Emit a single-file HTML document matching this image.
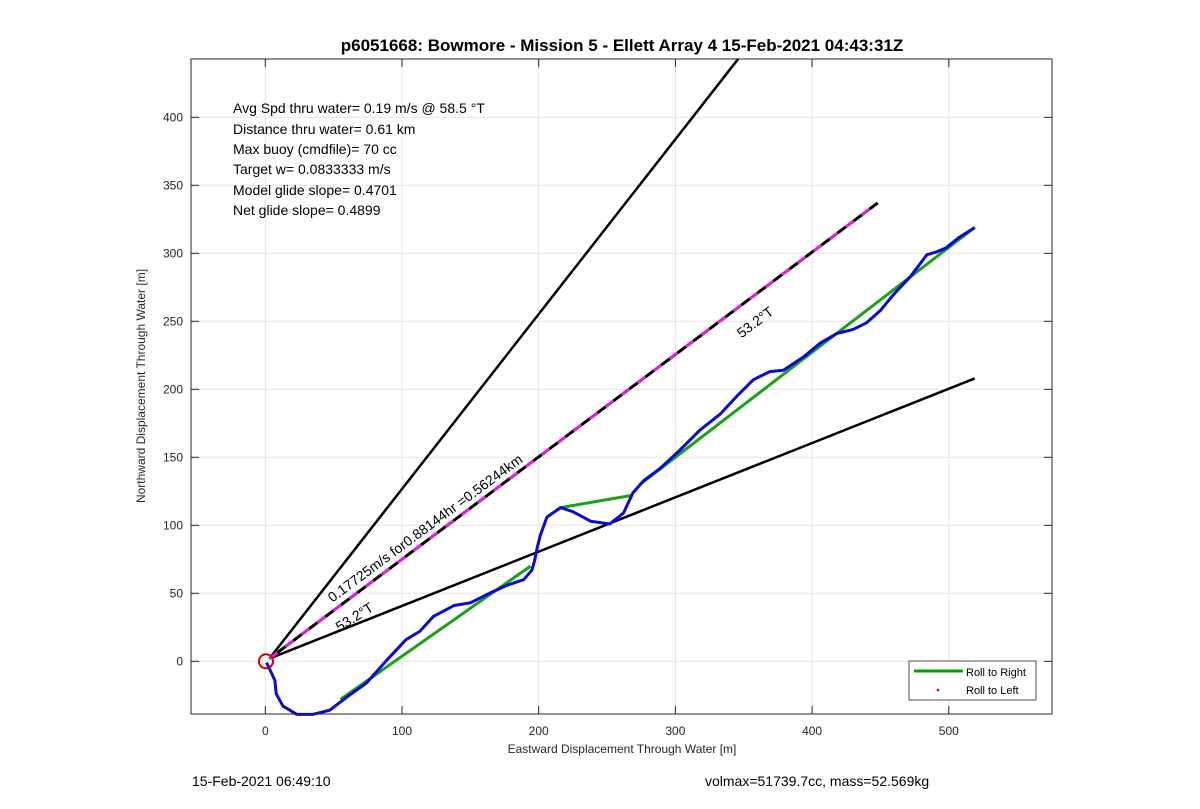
<!DOCTYPE html>
<html><head><meta charset="utf-8"><style>
body{margin:0;background:#fff;}
svg text{font-family:"Liberation Sans",Arial,sans-serif;}
</style></head><body>
<svg id="chart" width="1200" height="804" viewBox="0 0 1200 804">
<rect width="1200" height="804" fill="#fff"/>
<text x="622" y="51" font-size="17" font-weight="bold" text-anchor="middle" fill="#000">p6051668: Bowmore - Mission 5 - Ellett Array 4 15-Feb-2021 04:43:31Z</text>
<rect x="191" y="59" width="861" height="655" fill="#fff" stroke="none"/>
<g id="grid"></g>
<g id="series"></g>
<rect x="191" y="59" width="861" height="655" fill="none" stroke="#262626" stroke-width="1"/>
<g id="ticks"></g>
<g font-size="14" fill="#000">
<text x="233" y="113">Avg Spd thru water=  0.19 m/s @  58.5 °T</text>
<text x="233" y="134">Distance thru water=  0.61 km</text>
<text x="233" y="154">Max buoy (cmdfile)= 70 cc</text>
<text x="233" y="174">Target w= 0.0833333 m/s</text>
<text x="233" y="195">Model glide slope= 0.4701</text>
<text x="233" y="215">Net glide slope= 0.4899</text>
</g>
<text x="428" y="532" font-size="14" text-anchor="middle" transform="rotate(-36.5 428 532)">0.17725m/s for0.88144hr =0.56244km</text>
<text x="357" y="621" font-size="14" text-anchor="middle" transform="rotate(-32 357 621)">53.2°T</text>
<text x="758" y="326" font-size="14" text-anchor="middle" transform="rotate(-37 758 326)">53.2°T</text>
<text x="145" y="386" font-size="12" text-anchor="middle" transform="rotate(-90 145 386)" fill="#262626">Northward Displacement Through Water [m]</text>
<text x="622" y="753" font-size="12" text-anchor="middle" fill="#262626">Eastward Displacement Through Water [m]</text>
<g>
<rect x="909" y="661" width="127" height="39" fill="#fff" stroke="#262626" stroke-width="0.8"/>
<line x1="914" y1="671" x2="963" y2="671" stroke="#00a000" stroke-width="3"/>
<text x="966" y="676" font-size="11">Roll to Right</text>
<circle cx="938" cy="690" r="1.3" fill="#d00"/>
<text x="966" y="694" font-size="11">Roll to Left</text>
</g>
<text x="192" y="786" font-size="14">15-Feb-2021 06:49:10</text>
<text x="705" y="786" font-size="14">volmax=51739.7cc, mass=52.569kg</text>
</svg>
<script>
const xTicks=[0,100,200,300,400,500];
const yTicks=[0,50,100,150,200,250,300,350,400];
const trackX=[1,7,8,13,23,35,47,60,74,89,103,113,123,138,150,164,177,189,195,197,199,201,206,216,225,238,252,262,269,277,289,303,318,333,345,357,369,379,394,406,418,430,440,450,459,472,484,491,498,508,519];
const trackY=[-1,-14,-24,-33,-39,-39,-36,-26,-16,1,16,22,33,41,43,50,56,60,67,74,84,92,106,113,110,103,101,109,124,133,142,155,170,182,195,207,213,214,224,234,241,244,249,258,269,283,299,301,304,312,319];
const greenX=[[55,194],[216,268],[274,519]];
const greenY=[[-28,70],[113,122],[130,319]];
const rayEndX=[346,448,519];
const rayEndY=[443,337,208];
const originX=3, originY=2;
const X=v=>265.3+v*1.367;
const Y=v=>661.3-v*1.36;
const NS="http://www.w3.org/2000/svg";
function mk(tag,attrs,parent){const e=document.createElementNS(NS,tag);for(const k in attrs)e.setAttribute(k,attrs[k]);parent.appendChild(e);return e;}
const grid=document.getElementById('grid'),ticks=document.getElementById('ticks'),series=document.getElementById('series');
xTicks.forEach(t=>{
 const g=mk('line',{x1:X(t),x2:X(t),y1:59,y2:714,stroke:'#e3e3e3','stroke-width':1},grid);
 
 
 const a=mk('line',{x1:X(t),x2:X(t),y1:714,y2:706,stroke:'#262626'},ticks);
 
 
 const b=mk('line',{x1:X(t),x2:X(t),y1:59,y2:67,stroke:'#262626'},ticks);
 
 
 const l=mk('text',{x:X(t),y:735,'font-size':12,'text-anchor':'middle',fill:'#262626'},ticks);
 l.textContent=t;
 
 
});
yTicks.forEach(t=>{
 const g=mk('line',{x1:191,x2:1052,y1:Y(t),y2:Y(t),stroke:'#e3e3e3','stroke-width':1},grid);
 
 
 const a=mk('line',{x1:191,x2:199,y1:Y(t),y2:Y(t),stroke:'#262626'},ticks);
 
 
 const b=mk('line',{x1:1052,x2:1044,y1:Y(t),y2:Y(t),stroke:'#262626'},ticks);
 
 
 const l=mk('text',{x:183,y:Y(t)+4,'font-size':12,'text-anchor':'end',fill:'#262626'},ticks);
 l.textContent=t;
 
 
});
[0,2].forEach(i=>{
 const r=mk('line',{x1:X(originX),y1:Y(originY),x2:X(rayEndX[i]),y2:Y(rayEndY[i]),stroke:'#000','stroke-width':2.5},series);
 
 
});
const d1=mk('line',{x1:X(originX),y1:Y(originY),x2:X(rayEndX[1]),y2:Y(rayEndY[1]),stroke:'#000','stroke-width':3},series);


const d2=mk('line',{x1:X(originX),y1:Y(originY),x2:X(rayEndX[1]),y2:Y(rayEndY[1]),stroke:'#e020e0','stroke-width':3,'stroke-dasharray':'10 10'},series);


greenX.forEach((gx,i)=>{
 const g=mk('polyline',{points:gx.map((v,j)=>X(v)+','+Y(greenY[i][j])).join(' '),fill:'none',stroke:'#1aa01a','stroke-width':3},series);
 
 
});
const tr=mk('polyline',{points:trackX.map((v,i)=>X(v)+','+Y(trackY[i])).join(' '),fill:'none',stroke:'#0a0ad0','stroke-width':3,'stroke-linejoin':'round'},series);


const c=mk('circle',{cx:X(0.5),cy:Y(0),r:7,fill:'none',stroke:'#d00000','stroke-width':2},series);


</script>
</body></html>
